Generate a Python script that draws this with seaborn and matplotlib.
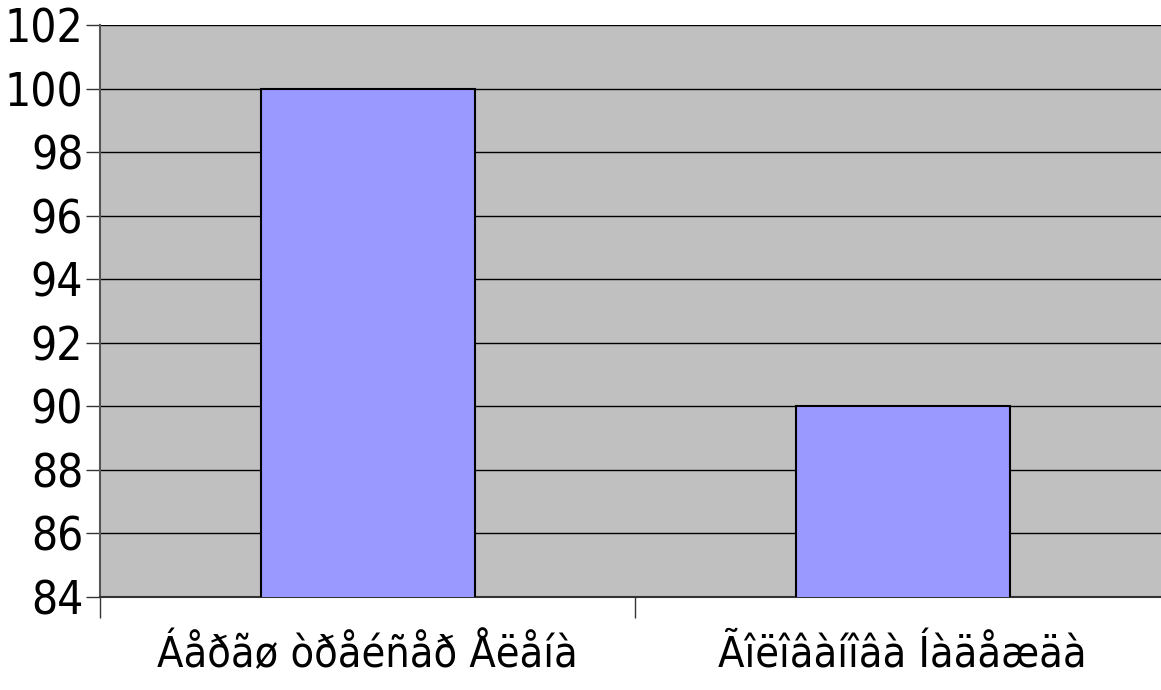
import numpy as np
import pandas as pd
import matplotlib
matplotlib.use('Agg')
import matplotlib.pyplot as plt
import seaborn as sns

names = ['Áåðãø òðåéñåð Åëåíà', 'Ãîëîâàíîâà Íàäåæäà']
scores = [100, 90]
yticks = [84, 86, 88, 90, 92, 94, 96, 98, 100, 102]

sns.set_style('white')
plt.rcParams['font.family'] = ['DejaVu Sans']
plt.rcParams['font.stretch'] = 'condensed'
plt.rcParams['text.color'] = 'black'
plt.rcParams['xtick.labelcolor'] = 'black'
plt.rcParams['ytick.labelcolor'] = 'black'

df = pd.DataFrame({'name': names, 'score': scores})

fig = plt.figure(figsize=(11.61, 6.9), dpi=100)
# plot area runs a little past the right edge of the picture
ax = fig.add_axes([100/1161, 1-597/690, 1070/1161, (597-25)/690])
ax.set_facecolor('#C0C0C0')

sns.barplot(data=df, x='name', y='score', color='#9999FF', saturation=1,
            width=0.4, edgecolor='black', linewidth=1.5, ax=ax, zorder=3)

ax.set_ylim(84, 102)
ax.set_xlim(-0.5, 1.5)
ax.set_yticks(yticks)
ax.yaxis.grid(True, color='black', linewidth=1)
ax.set_axisbelow(True)
ax.tick_params(axis='y', labelsize=33, length=10, width=1, color='#333333', pad=2, direction='out', left=True)
ax.set_xticks([0, 1])
ax.set_xticklabels(names)
ax.tick_params(axis='x', which='major', length=0, labelsize=31, pad=27)
ax.set_xticks([-0.5, 0.5, 1.5], minor=True)
ax.tick_params(axis='x', which='minor', length=15, width=1, color='#333333', direction='out', bottom=True)
ax.set_xlabel('')
ax.set_ylabel('')
for s in ['top', 'right']:
    ax.spines[s].set_visible(False)
ax.spines['left'].set_color('#555555')
ax.spines['bottom'].set_color('#333333')
ax.spines['left'].set_linewidth(1.5)
ax.spines['bottom'].set_linewidth(1.5)

fig.savefig('out.png', dpi=100)
